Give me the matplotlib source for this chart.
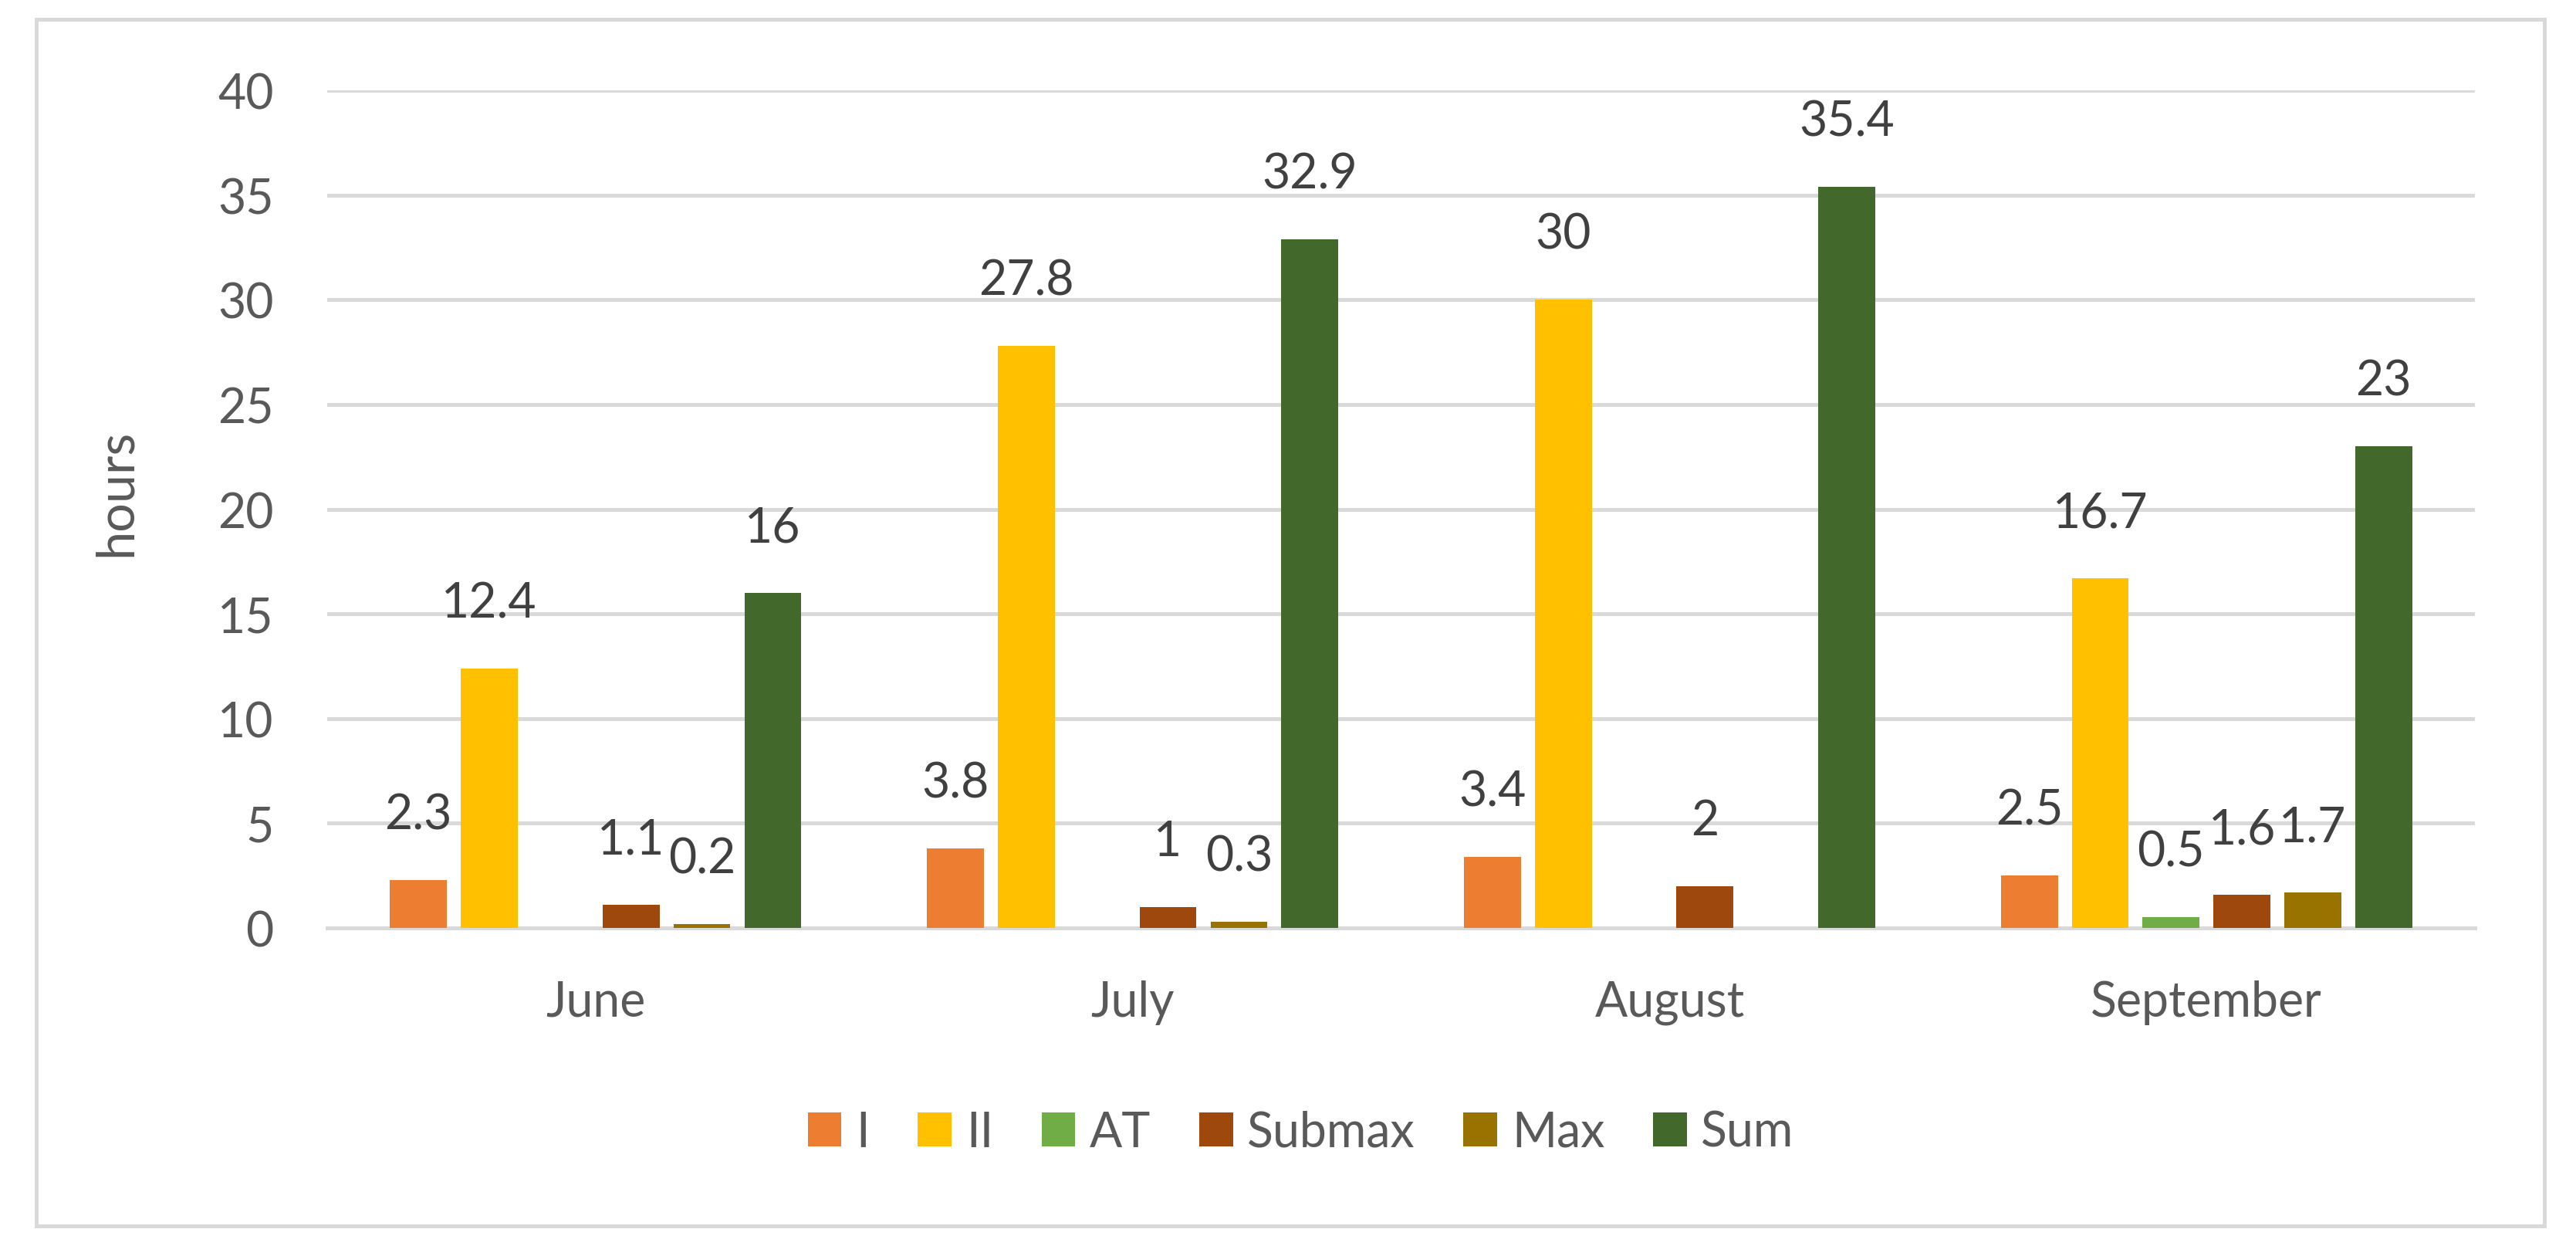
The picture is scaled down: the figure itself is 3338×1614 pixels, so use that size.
import numpy as np
import matplotlib
matplotlib.use("Agg")
import matplotlib.pyplot as plt
from matplotlib.patches import Rectangle

plt.rcParams['font.family'] = ['Lato', 'DejaVu Sans']

# --- dados ---
meses = ['June', 'July', 'August', 'September']
series = ['I', 'II', 'AT', 'Submax', 'Max', 'Sum']
val_I = [2.3, 3.8, 3.4, 2.5]
val_II = [12.4, 27.8, 30, 16.7]
val_AT = [np.nan, np.nan, np.nan, 0.5]
val_submax = [1.1, 1, 2, 1.6]
val_max = [0.2, 0.3, np.nan, 1.7]
val_sum = [16, 32.9, 35.4, 23]
cores = ['#ED7D31', '#FFC000', '#70AD47', '#9E480E', '#997300', '#43682B']

valores = [val_I, val_II, val_AT, val_submax, val_max, val_sum]

fig = plt.figure(figsize=(33.38, 16.15), dpi=100)
ax = fig.add_axes([0.127, 0.2551, 0.8338, 0.6718])

# moldura externa
fig.patches.append(Rectangle((47 / 3338, 26 / 1615), 3250 / 3338, 1563 / 1615,
                             transform=fig.transFigure, fill=False,
                             edgecolor='#D9D9D9', linewidth=3.6, zorder=0))

x = np.arange(len(meses))
passo = 0.132
largura = 0.106
for i, (nome, vals, cor) in enumerate(zip(series, valores, cores)):
    pos = x + (i - 2.5) * passo
    v = np.array(vals, dtype=float)
    ax.bar(pos, np.nan_to_num(v), width=largura, color=cor, label=nome, zorder=3)
    for px, py in zip(pos, v):
        if np.isnan(py):
            continue
        txt = f"{py:g}"
        ax.annotate(txt, (px, py), xytext=(0, 40), textcoords='offset points',
                    ha='center', va='bottom', fontsize=45, color='#404040')

ax.set_xlim(-0.5, 3.5)
ax.set_ylim(0, 40)
ax.set_yticks(range(0, 41, 5))
ax.set_xticks(x)
ax.set_xticklabels(meses)
ax.tick_params(axis='both', length=0, labelsize=45, labelcolor='#595959')
ax.tick_params(axis='y', pad=50)
ax.tick_params(axis='x', pad=48)
ax.grid(axis='y', color='#D9D9D9', linewidth=3.6, zorder=0)
for s in ['top', 'right', 'left']:
    ax.spines[s].set_visible(False)
ax.spines['bottom'].set_color('#D9D9D9')
ax.spines['bottom'].set_linewidth(3.6)

ax.set_ylabel('hours', fontsize=48, color='#595959')
ax.yaxis.set_label_coords(-0.087, 0.52)

fig.legend(loc='center', bbox_to_anchor=(0.505, 1 - 1468 / 1615), ncol=6,
           frameon=False, fontsize=45, labelcolor='#595959',
           handlelength=0.7, handleheight=0.7, handletextpad=0.3,
           columnspacing=1.0)

fig.savefig('out.png', dpi=100)
